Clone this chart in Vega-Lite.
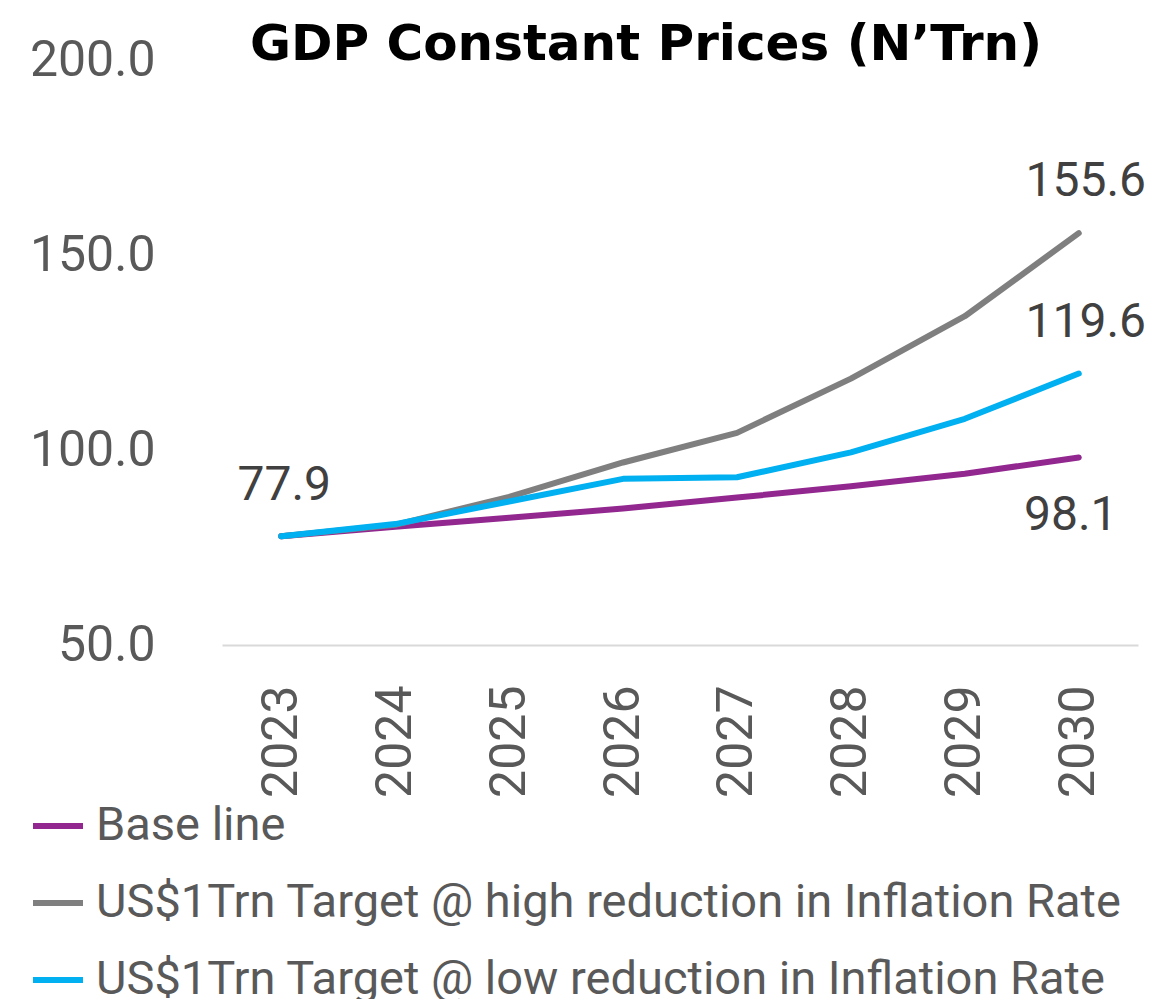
{
  "$schema": "https://vega.github.io/schema/vega-lite/v6.json",
  "width": 916,
  "height": 585,
  "autosize": {"type": "none"},
  "padding": {"left": 222, "top": 60, "right": 15, "bottom": 354},
  "background": "white",
  "config": {"view": {"stroke": null}},
  "title": {
    "text": "GDP Constant Prices (N’Trn)",
    "font": "DejaVu Sans",
    "fontSize": 50,
    "fontWeight": "bold",
    "color": "#000000",
    "anchor": "middle",
    "frame": "group",
    "baseline": "alphabetic",
    "offset": 0,
    "dx": -34,
    "dy": 75
  },
  "data": {
    "values": [
      {"year": "2023", "series": "Base line", "value": 77.9},
      {"year": "2024", "series": "Base line", "value": 80.3},
      {"year": "2025", "series": "Base line", "value": 82.6},
      {"year": "2026", "series": "Base line", "value": 85.0},
      {"year": "2027", "series": "Base line", "value": 87.8},
      {"year": "2028", "series": "Base line", "value": 90.7},
      {"year": "2029", "series": "Base line", "value": 93.9},
      {"year": "2030", "series": "Base line", "value": 98.1},
      {"year": "2023", "series": "US$1Trn Target @ high reduction in Inflation Rate", "value": 77.9},
      {"year": "2024", "series": "US$1Trn Target @ high reduction in Inflation Rate", "value": 80.8},
      {"year": "2025", "series": "US$1Trn Target @ high reduction in Inflation Rate", "value": 88.0},
      {"year": "2026", "series": "US$1Trn Target @ high reduction in Inflation Rate", "value": 96.8},
      {"year": "2027", "series": "US$1Trn Target @ high reduction in Inflation Rate", "value": 104.4},
      {"year": "2028", "series": "US$1Trn Target @ high reduction in Inflation Rate", "value": 118.3},
      {"year": "2029", "series": "US$1Trn Target @ high reduction in Inflation Rate", "value": 134.3},
      {"year": "2030", "series": "US$1Trn Target @ high reduction in Inflation Rate", "value": 155.6},
      {"year": "2023", "series": "US$1Trn Target @ low reduction in Inflation Rate", "value": 77.9},
      {"year": "2024", "series": "US$1Trn Target @ low reduction in Inflation Rate", "value": 81.0},
      {"year": "2025", "series": "US$1Trn Target @ low reduction in Inflation Rate", "value": 86.8},
      {"year": "2026", "series": "US$1Trn Target @ low reduction in Inflation Rate", "value": 92.6},
      {"year": "2027", "series": "US$1Trn Target @ low reduction in Inflation Rate", "value": 93.0},
      {"year": "2028", "series": "US$1Trn Target @ low reduction in Inflation Rate", "value": 99.4},
      {"year": "2029", "series": "US$1Trn Target @ low reduction in Inflation Rate", "value": 108.0},
      {"year": "2030", "series": "US$1Trn Target @ low reduction in Inflation Rate", "value": 119.6}
    ]
  },
  "encoding": {
    "x": {
      "field": "year",
      "type": "ordinal",
      "scale": {"type": "point", "padding": 0.52},
      "axis": {
        "title": null,
        "labelAngle": -90,
        "labelFont": "Roboto",
        "labelFontSize": 50,
        "labelColor": "#595959",
        "labelPadding": 40,
        "ticks": false,
        "domain": true,
        "domainColor": "#d9d9d9",
        "domainWidth": 2,
        "grid": false
      }
    },
    "y": {
      "field": "value",
      "type": "quantitative",
      "scale": {"domain": [50, 200], "nice": false, "zero": false},
      "axis": {
        "title": null,
        "values": [50, 100, 150, 200],
        "format": ".1f",
        "labelFont": "Roboto",
        "labelFontSize": 50,
        "labelColor": "#595959",
        "labelPadding": 67,
        "ticks": false,
        "domain": false,
        "grid": false
      }
    }
  },
  "layer": [
    {
      "mark": {"type": "line", "strokeWidth": 6, "strokeCap": "round", "strokeJoin": "round"},
      "encoding": {
        "color": {
          "field": "series",
          "type": "nominal",
          "sort": null,
          "scale": {
            "domain": ["Base line", "US$1Trn Target @ high reduction in Inflation Rate", "US$1Trn Target @ low reduction in Inflation Rate"],
            "range": ["#92278F", "#7F7F7F", "#00B0F0"]
          },
          "legend": {
            "title": null,
            "orient": "none",
            "legendX": -192,
            "legendY": 738,
            "symbolType": "stroke",
            "symbolSize": 2500,
            "symbolStrokeWidth": 6,
            "labelFont": "Roboto",
            "labelFontSize": 47,
            "labelColor": "#595959",
            "labelOffset": 10,
            "rowPadding": 26,
            "labelLimit": 1200
          }
        }
      }
    },
    {
      "transform": [{"filter": "datum.year == '2023' && datum.series == 'Base line'"}],
      "mark": {"type": "text", "font": "Roboto", "fontSize": 48, "color": "#404040", "dy": -50, "dx": 3},
      "encoding": {"text": {"field": "value", "type": "quantitative", "format": ".1f"}}
    },
    {
      "transform": [{"filter": "datum.year == '2030' && datum.series != 'Base line'"}],
      "mark": {"type": "text", "font": "Roboto", "fontSize": 48, "color": "#404040", "dy": -51, "dx": 7},
      "encoding": {"text": {"field": "value", "type": "quantitative", "format": ".1f"}}
    },
    {
      "transform": [{"filter": "datum.year == '2030' && datum.series == 'Base line'"}],
      "mark": {"type": "text", "font": "Roboto", "fontSize": 48, "color": "#404040", "dy": 59, "dx": -8},
      "encoding": {"text": {"field": "value", "type": "quantitative", "format": ".1f"}}
    }
  ]
}
